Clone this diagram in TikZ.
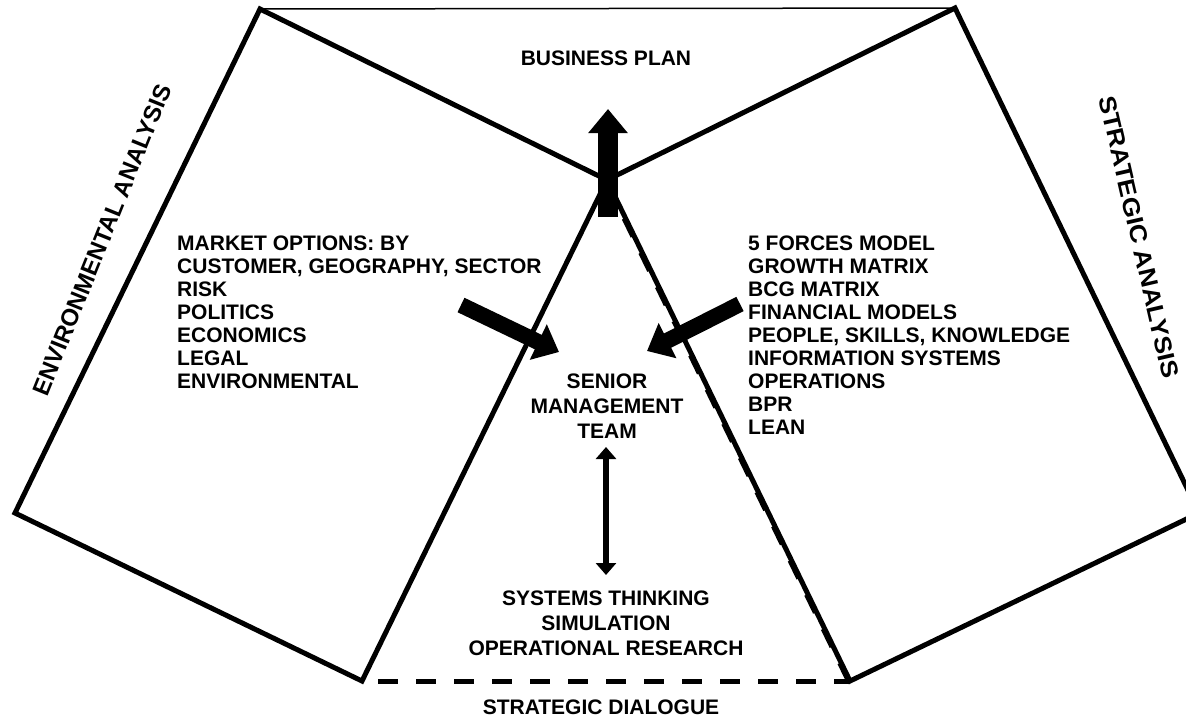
\documentclass[tikz,border=0pt]{standalone}
\usepackage{fontspec}
\setmainfont{Liberation Sans}[BoldFont={Liberation Sans Bold}]
\usetikzlibrary{arrows.meta}
\begin{document}
\begin{tikzpicture}[x=1pt,y=-1pt,
  edge/.style={line width=5pt, line join=miter},
  thinedge/.style={line width=1.5pt},
  dashedge/.style={line width=5pt, dash pattern=on 20pt off 18pt},
  lbl/.style={font=\fontsize{21}{23}\selectfont\bfseries, inner sep=0pt},
  midlbl/.style={font=\fontsize{21}{24.7}\selectfont\bfseries, inner sep=0pt},
  sidelbl/.style={font=\fontsize{24}{26}\selectfont\bfseries, inner sep=0pt},
  blockarrow/.style={line width=16pt, -{Triangle[length=23pt,width=38pt]}},
  uparrow/.style={line width=20pt, -{Triangle[length=24pt,width=38pt]}},
  twoway/.style={line width=6pt, {Triangle[length=12pt,width=20pt]}-{Triangle[length=12pt,width=20pt]}}]
\useasboundingbox (0,0) rectangle (1186,718);
\clip (0,0) rectangle (1186,718);
\fill[white] (0,0) rectangle (1186,718);
% corner points
\coordinate (A) at (260,9);
\coordinate (B) at (15,513);
\coordinate (C) at (362,681);
\coordinate (P) at (607,180);
\coordinate (D) at (955,8);
\coordinate (E) at (1199,513);
\coordinate (F) at (850,681);
% outlines
\draw[thinedge] (A) -- (D);
\draw[edge] (P) -- (A) -- (B) -- (C) -- (P);
\draw[edge] (P) -- (D) -- (E) -- (F) -- (P);
\draw[dashedge, transform canvas={xshift=-1.5pt}] (F) -- (P);
\draw[dashedge, dash phase=22pt] (C) -- (F);
% block arrows
\coordinate (lt) at (461,305); \coordinate (lh) at (559,352);
\coordinate (rt) at (740,304); \coordinate (rh) at (647,351);
\coordinate (ut) at (608,217); \coordinate (uh) at (608,109);
\coordinate (dt) at (606,447); \coordinate (db) at (606,575);
\draw[blockarrow] (lt) -- (lh);
\draw[blockarrow] (rt) -- (rh);
\draw[uparrow] (ut) -- (uh);
\draw[twoway] (dt) -- (db);
% texts
\node[lbl, anchor=north] (bp) at (606,51) {BUSINESS PLAN};
\node[lbl, align=left, anchor=north west] (env) at (177,236)
  {MARKET OPTIONS: BY\\CUSTOMER, GEOGRAPHY, SECTOR\\RISK\\POLITICS\\ECONOMICS\\LEGAL\\ENVIRONMENTAL};
\node[lbl, align=left, anchor=north west] (str) at (748,236)
  {5 FORCES MODEL\\GROWTH MATRIX\\BCG MATRIX\\FINANCIAL MODELS\\PEOPLE, SKILLS, KNOWLEDGE\\INFORMATION SYSTEMS\\OPERATIONS\\BPR\\LEAN};
\node[midlbl, align=center, anchor=north] (smt) at (607,374) {SENIOR\\MANAGEMENT\\TEAM};
\node[midlbl, align=center, anchor=north] (sys) at (606,591) {SYSTEMS THINKING\\SIMULATION\\OPERATIONAL RESEARCH};
\node[lbl, anchor=north] (sd) at (601,700) {STRATEGIC DIALOGUE};
\node[sidelbl, rotate=68] (ea) at (102,240) {ENVIRONMENTAL ANALYSIS};
\node[sidelbl, rotate=-77] (sa) at (1139,237) {\scalebox{1.1}[1]{STRATEGIC ANALYSIS}};
\end{tikzpicture}
\end{document}
